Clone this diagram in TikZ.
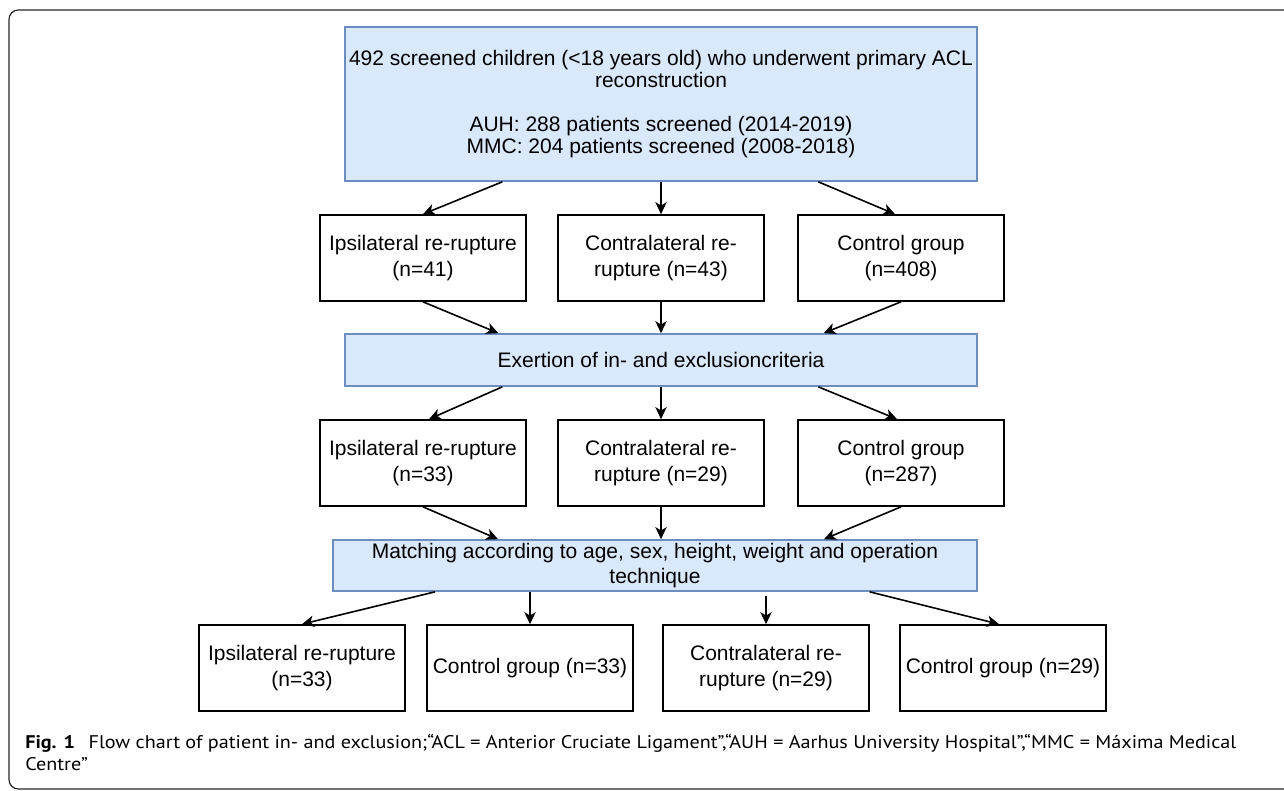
\documentclass[tikz,border=0pt]{standalone}
\usepackage{fontspec}
\setmainfont{Liberation Sans}
\newfontfamily\capfont[FakeStretch=1.1]{PT Sans}
\usetikzlibrary{arrows.meta,calc}
\definecolor{bfill}{HTML}{DAE8FC}
\definecolor{bline}{HTML}{6C8EBF}
\begin{document}
\begin{tikzpicture}[x=0.75pt,y=-0.75pt,
  box/.style={draw=black,line width=1.25pt,fill=white,minimum width=154.5pt,minimum height=64.5pt,inner sep=0pt,align=center,font=\fontsize{15.75}{19}\selectfont},
  bluebox/.style={draw=bline,line width=1.25pt,fill=bfill,inner sep=0pt,align=center,font=\fontsize{15.75}{16.5}\selectfont},
  arr/.style={draw=black,line width=1.2pt,-{Stealth[length=9pt,width=8.5pt,inset=2.5pt]}},
  captext/.style={anchor=base west,inner sep=0pt,font=\capfont\fontsize{13.75}{18}\selectfont}]
\useasboundingbox (0,0) rectangle (1284,791);
\draw[line width=0.9pt,black!85,rounded corners=7pt] (1300,789) -- (9,789) -- (9,10) -- (1300,10);

\node[bluebox,minimum width=474pt,minimum height=115.5pt] (top) at (661,104) {492 screened children (<18 years old) who underwent primary ACL\\reconstruction\\[17pt]AUH: 288 patients screened (2014-2019)\\MMC: 204 patients screened (2008-2018)};

\node[box] (r1a) at (423,258) {Ipsilateral re-rupture\\(n=41)};
\node[box] (r1b) at (661,258) {Contralateral re-\\rupture (n=43)};
\node[box] (r1c) at (901,258) {Control group\\(n=408)};

\node[bluebox,minimum width=474pt,minimum height=39pt] (ex) at (661,360) {Exertion of in- and exclusioncriteria};

\node[box] (r2a) at (423,463) {Ipsilateral re-rupture\\(n=33)};
\node[box] (r2b) at (661,463) {Contralateral re-\\rupture (n=29)};
\node[box] (r2c) at (901,463) {Control group\\(n=287)};

\node[bluebox,minimum width=483pt,minimum height=38.25pt,font=\fontsize{15.75}{19}\selectfont] (match) at (655,565.5) {Matching according to age, sex, height, weight and operation\\technique};

\node[box] (b1) at (302,668) {Ipsilateral re-rupture\\(n=33)};
\node[box] (b2) at (530,668) {Control group (n=33)};
\node[box] (b3) at (766,668) {Contralateral re-\\rupture (n=29)};
\node[box] (b4) at (1003,668) {Control group (n=29)};

\draw[arr] ([xshift=-119pt]top.south) -- (r1a.north);
\draw[arr] (top.south) -- (r1b.north);
\draw[arr] ([xshift=118pt]top.south) -- ([xshift=-4.5pt]r1c.north);

\draw[arr] (r1a.south) -- ([xshift=-122pt]ex.north);
\draw[arr] (r1b.south) -- (ex.north);
\draw[arr] (r1c.south) -- ([xshift=122pt]ex.north);

\draw[arr] ([xshift=-119pt]ex.south) -- ([xshift=4.5pt]r2a.north);
\draw[arr] (ex.south) -- (r2b.north);
\draw[arr] ([xshift=118pt]ex.south) -- ([xshift=-3pt]r2c.north);

\draw[arr] (r2a.south) -- ([xshift=-117.75pt]match.north);
\draw[arr] (r2b.south) -- (r2b.south |- match.north);
\draw[arr] (r2c.south) -- ([xshift=126.75pt]match.north);

\draw[arr] ([xshift=-165pt]match.south) -- (b1.north);
\draw[arr] (b2.north |- match.south) -- (b2.north);
\draw[arr,shorten <=3pt] (b3.north |- match.south) -- (b3.north);
\draw[arr] ([xshift=161pt]match.south) -- ([xshift=-3pt]b4.north);

\node[captext] (cap1) at (25,748) {\textbf{Fig. 1}\hspace{0.45em} Flow chart of patient in- and exclusion;“ACL = Anterior Cruciate Ligament”,“AUH = Aarhus University Hospital”,“MMC = Máxima Medical};
\node[captext] (cap2) at (25,770) {Centre”};
\end{tikzpicture}
\end{document}
